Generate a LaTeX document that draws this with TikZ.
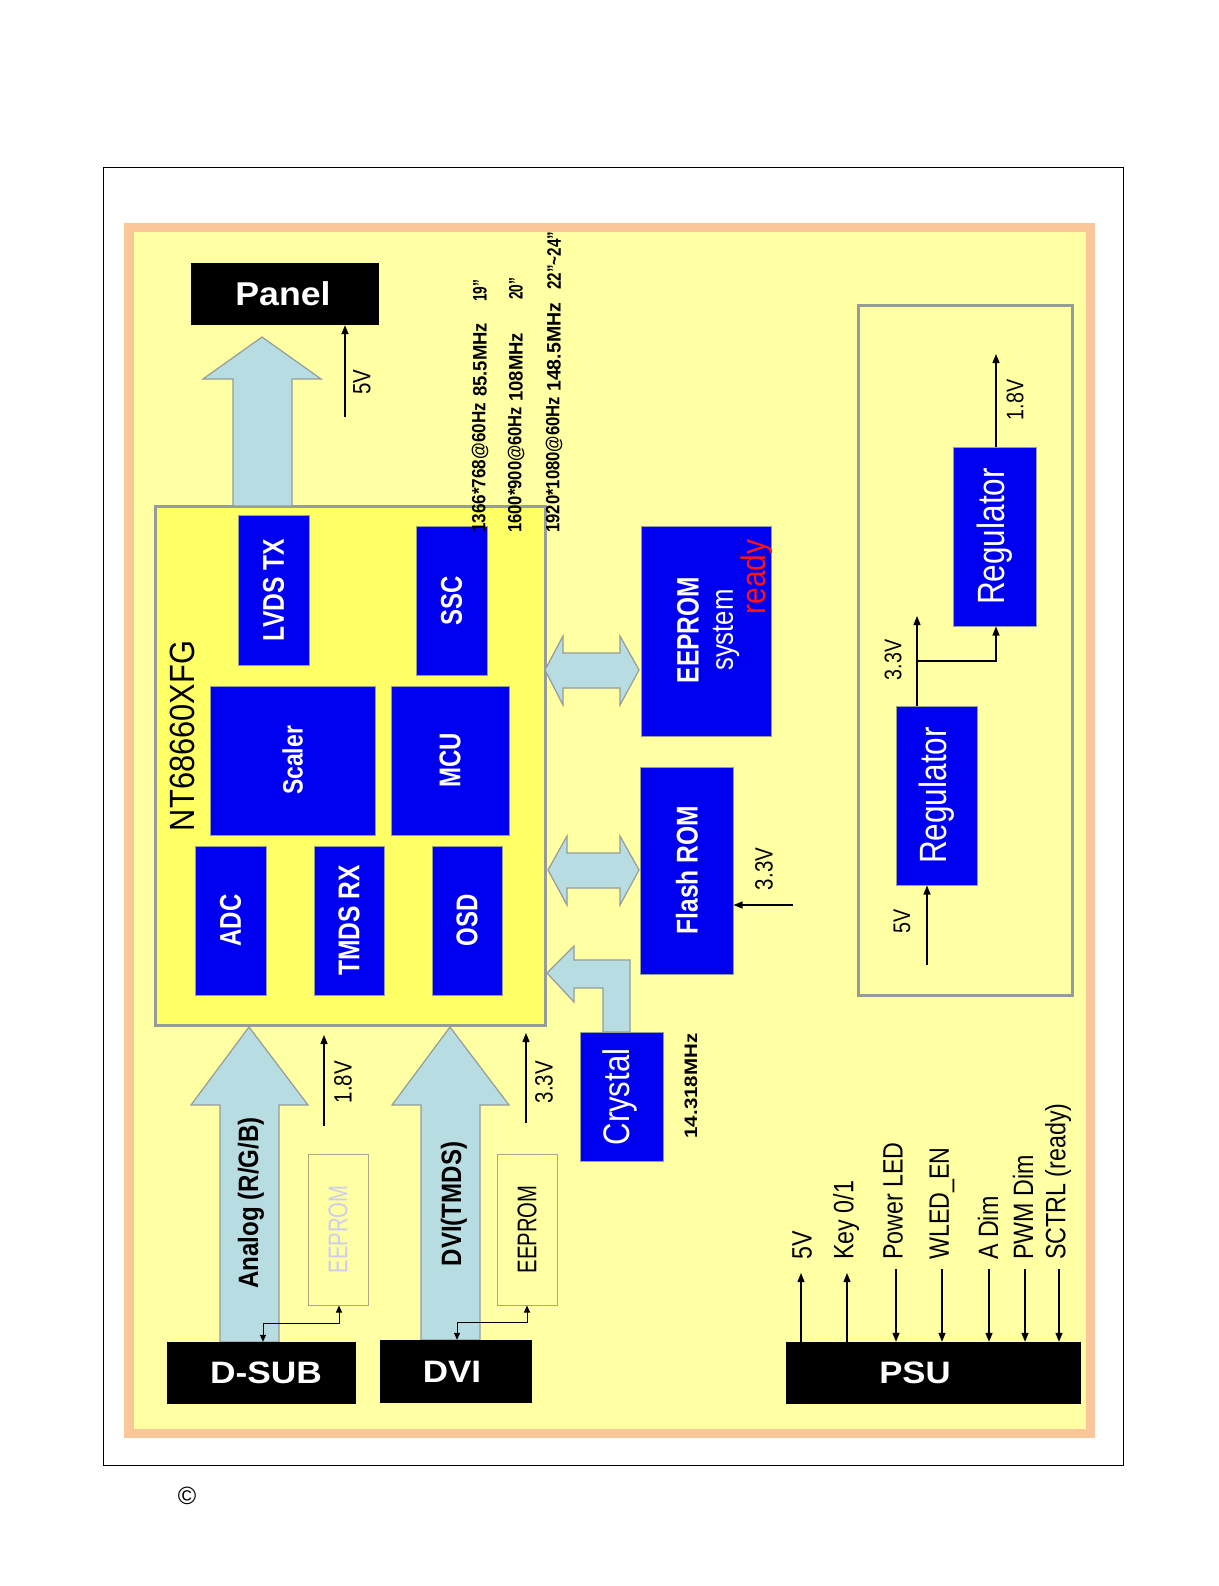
\documentclass[tikz,border=0pt]{standalone}
\usepackage{fontspec}
\setmainfont{Liberation Sans}
\usepackage{graphicx}
\usetikzlibrary{arrows.meta}
\definecolor{peach}{RGB}{251,199,154}
\definecolor{bgyel}{RGB}{255,255,163}
\definecolor{chipyel}{RGB}{255,255,102}
\definecolor{blk}{RGB}{0,0,240}
\definecolor{lblue}{RGB}{183,221,226}
\definecolor{agray}{RGB}{150,155,155}
\definecolor{lav}{RGB}{205,205,240}
\definecolor{eepb}{RGB}{175,165,135}
\definecolor{rdy}{RGB}{255,20,20}
\newcommand\tx[3]{\scalebox{#2}[1]{\fontsize{#1}{#1}\selectfont #3}}
\newcommand\seg[2]{\resizebox{#1pt}{13.6pt}{\fontsize{17}{17}\selectfont\bfseries #2}}
\begin{document}
\begin{tikzpicture}[x=1pt,y=-1pt,
  bluebox/.style={draw=agray,line width=1pt,fill=blk,inner sep=0pt},
  blackbox/.style={fill=black,inner sep=0pt,text=white},
  eepbox/.style={draw=eepb,line width=1pt,fill=bgyel,inner sep=0pt},
  rlab/.style={rotate=90,inner sep=0pt},
  wlab/.style={rotate=90,inner sep=0pt,text=white},
  arr/.style={line width=1.3pt,-{Triangle[length=9pt,width=7pt]}},
  arrb/.style={line width=1pt,{Triangle[length=7pt,width=6pt]}-{Triangle[length=7pt,width=6pt]}},
  blockarrow/.style={fill=lblue,draw=agray,line width=1.2pt,line join=miter}]
\useasboundingbox (0,0) rectangle (1218,1586);
\fill[white] (0,0) rectangle (1218,1586);
% frame
\draw[line width=1pt] (103,168) rectangle (1123,1465);
\fill[peach] (124,223) rectangle (1095,1438);
\fill[bgyel] (134,232) rectangle (1086,1429);
% copyright
\node[inner sep=0pt] (copy) at (187,1496) {\fontsize{25}{25}\selectfont\textcopyright};

% chip
\node[draw=agray,line width=3pt,fill=chipyel,inner sep=0pt,minimum width=390pt,minimum height=519pt] (chip) at (350,765.5) {};
\node[rlab] (ntlab) at (182,736) {\tx{35}{0.88}{NT68660XFG}};

% block arrows
\filldraw[blockarrow] (233,506) -- (233,379) -- (203,379) -- (262,337) -- (321,379) -- (292,379) -- (292,506) -- cycle;
\filldraw[blockarrow] (220,1342) -- (220,1105) -- (191,1105) -- (249,1027) -- (308,1105) -- (279,1105) -- (279,1342) -- cycle;
\filldraw[blockarrow] (421,1340) -- (421,1105) -- (392,1105) -- (450,1027) -- (509,1105) -- (480,1105) -- (480,1340) -- cycle;
\filldraw[blockarrow] (545,670) -- (563,636) -- (563,653) -- (620,653) -- (620,636) -- (639,670) -- (620,705) -- (620,688) -- (563,688) -- (563,705) -- cycle;
\filldraw[blockarrow] (548,870) -- (567,836) -- (567,853) -- (620,853) -- (620,836) -- (639,870) -- (620,905) -- (620,888) -- (567,888) -- (567,905) -- cycle;
\filldraw[blockarrow] (547,973) -- (574,946) -- (574,960) -- (630,960) -- (630,1032) -- (603,1032) -- (603,988) -- (574,988) -- (574,1002) -- cycle;

% blocks inside chip
\node[bluebox,minimum width=71pt,minimum height=150pt] (lvds) at (273.5,590) {};
\node[bluebox,minimum width=71pt,minimum height=149pt] (ssc) at (451.5,600.5) {};
\node[bluebox,minimum width=165pt,minimum height=149pt] (scaler) at (292.5,760.5) {};
\node[bluebox,minimum width=118pt,minimum height=149pt] (mcu) at (450,760.5) {};
\node[bluebox,minimum width=71pt,minimum height=149pt] (adc) at (230.5,920.5) {};
\node[bluebox,minimum width=70pt,minimum height=149pt] (tmds) at (349,920.5) {};
\node[bluebox,minimum width=70pt,minimum height=149pt] (osd) at (467,920.5) {};
\node[wlab] at (lvds) {\tx{30}{0.82}{\bfseries LVDS TX}};
\node[wlab] at (ssc) {\tx{30}{0.80}{\bfseries SSC}};
\node[wlab] at (scaler) {\tx{28}{0.82}{\bfseries Scaler}};
\node[wlab] at (mcu) {\tx{30}{0.80}{\bfseries MCU}};
\node[wlab] at (adc) {\tx{30}{0.80}{\bfseries ADC}};
\node[wlab] at (tmds) {\tx{30}{0.82}{\bfseries TMDS RX}};
\node[wlab] at (osd) {\tx{30}{0.80}{\bfseries OSD}};

% panel
\node[blackbox,minimum width=188pt,minimum height=62pt] (panel) at (285,294) {};
\node[text=white,inner sep=0pt] at (283,294) {\tx{33}{1.08}{\bfseries Panel}};
\coordinate (p5) at (345,417);
\draw[arr] (p5) -- (p5 |- panel.south);
\node[rlab] at (362,382) {\tx{25}{0.82}{5V}};

% resolutions
\node[rlab,anchor=west] at (480,533) {\seg{130}{1366*768@60Hz}};
\node[rlab,anchor=west] at (480,397) {\seg{74}{85.5MHz}};
\node[rlab,anchor=west] at (480,302) {\seg{22}{19”}};
\node[rlab,anchor=west] at (516,533) {\seg{126}{1600*900@60Hz}};
\node[rlab,anchor=west] at (516,402) {\seg{69}{108MHz}};
\node[rlab,anchor=west] at (516,300) {\seg{22}{20”}};
\node[rlab,anchor=west] at (554,533) {\seg{136}{1920*1080@60Hz}};
\node[rlab,anchor=west] at (554,392) {\seg{89}{148.5MHz}};
\node[rlab,anchor=west] at (554,290) {\seg{58}{22”\textasciitilde24”}};

% EEPROM system / flash
\node[bluebox,minimum width=130pt,minimum height=210pt] (eepsys) at (706,631) {};
\node[wlab] at (688,630) {\tx{31}{0.79}{\bfseries EEPROM}};
\node[wlab] at (726,630) {\tx{31}{0.83}{system}};
\node[rlab,text=rdy] at (757,577) {\tx{34}{0.88}{ready}};
\node[bluebox,minimum width=93pt,minimum height=207pt] (flash) at (686.5,870.5) {};
\node[wlab] at (687,870) {\tx{30}{0.82}{\bfseries Flash ROM}};
\coordinate (f33) at (793,905);
\draw[arr] (f33) -- (f33 -| flash.east);
\node[rlab] at (764,869) {\tx{25}{0.82}{3.3V}};

% crystal
\node[bluebox,minimum width=83pt,minimum height=129pt] (crystal) at (621.5,1096.5) {};
\node[wlab] at (620,1097) {\tx{37}{0.84}{Crystal}};
\node[rlab] at (691,1086) {\tx{18}{1.14}{\bfseries 14.318MHz}};

% left inputs
\node[rlab] at (251,1203) {\tx{28}{0.86}{\bfseries Analog (R/G/B)}};
\node[rlab] at (454,1204) {\tx{28}{0.86}{\bfseries DVI(TMDS)}};
\coordinate (v18) at (324,1126); \coordinate (v18e) at (324,1035);
\draw[arr] (v18) -- (v18e);
\node[rlab] at (343,1082) {\tx{25}{0.82}{1.8V}};
\coordinate (v33) at (526,1123); \coordinate (v33e) at (526,1033);
\draw[arr] (v33) -- (v33e);
\node[rlab] at (544,1082) {\tx{25}{0.82}{3.3V}};

\node[eepbox,minimum width=60pt,minimum height=151pt] (eep1) at (338,1229.5) {};
\node[rlab,text=lav] at (eep1) {\tx{27}{0.75}{EEPROM}};
\node[eepbox,minimum width=60pt,minimum height=151pt] (eep2) at (527,1229.5) {};
\node[rlab] at (eep2) {\tx{27}{0.75}{EEPROM}};

\node[blackbox,minimum width=189pt,minimum height=62pt] (dsub) at (261.5,1373) {};
\node[text=white,inner sep=0pt] at (266,1373) {\tx{31}{1.14}{\bfseries D-SUB}};
\node[blackbox,minimum width=152pt,minimum height=63pt] (dvi) at (456,1371.5) {};
\node[text=white,inner sep=0pt] at (452,1372) {\tx{31}{1.13}{\bfseries DVI}};

\coordinate (e1a) at (339,1323); \coordinate (e1b) at (263,1323);
\draw[arrb] (e1a |- eep1.south) -- (e1a) -- (e1b) -- (e1b |- dsub.north);
\coordinate (e2a) at (527,1322); \coordinate (e2b) at (457,1322);
\draw[arrb] (e2a |- eep2.south) -- (e2a) -- (e2b) -- (e2b |- dvi.north);

% power box
\node[draw=agray,line width=3pt,fill=bgyel,inner sep=0pt,minimum width=214pt,minimum height=689pt] (pbox) at (965,650.5) {};
\node[bluebox,minimum width=81pt,minimum height=179pt] (reg1) at (936.5,795.5) {};
\node[wlab] at (reg1) {\tx{38}{0.83}{Regulator}};
\node[bluebox,minimum width=83pt,minimum height=179pt] (reg2) at (994.5,536.5) {};
\node[wlab] at (reg2) {\tx{38}{0.83}{Regulator}};
\coordinate (r5) at (927,965);
\draw[arr] (r5) -- (r5 |- reg1.south);
\node[rlab] at (902,921) {\tx{24}{0.82}{5V}};
\coordinate (r33) at (917,616);
\draw[arr] (r33 |- reg1.north) -- (r33);
\node[rlab] at (893,660) {\tx{24}{0.82}{3.3V}};
\coordinate (br) at (917,661); \coordinate (r18) at (996,354);
\draw[arr] (br) -- (br -| r18) -- (r18 |- reg2.south);
\draw[arr] (r18 |- reg2.north) -- (r18);
\node[rlab] at (1015,400) {\tx{24}{0.82}{1.8V}};

% PSU
\node[blackbox,minimum width=295pt,minimum height=62pt] (psu) at (933.5,1373) {};
\node[text=white,inner sep=0pt] at (915,1373) {\tx{31}{1.12}{\bfseries PSU}};
\coordinate (k1) at (801,1273); \coordinate (k2) at (847,1273);
\coordinate (k3) at (896,1269); \coordinate (k4) at (942,1269);
\coordinate (k5) at (989,1269); \coordinate (k6) at (1025,1269);
\coordinate (k7) at (1059,1269);
\draw[arr] (k1 |- psu.north) -- (k1);
\draw[arr] (k2 |- psu.north) -- (k2);
\foreach \k in {k3,k4,k5,k6,k7} {\draw[arr] (\k) -- (\k |- psu.north);}
\node[rlab,anchor=west] at (802,1260) {\tx{28}{0.83}{5V}};
\node[rlab,anchor=west] at (846,1260) {\tx{28}{0.83}{Key 0/1}};
\node[rlab,anchor=west] at (893,1260) {\tx{28}{0.83}{Power LED}};
\node[rlab,anchor=west] at (942,1260) {\tx{28}{0.83}{WLED\_EN}};
\node[rlab,anchor=west] at (988,1260) {\tx{28}{0.83}{A Dim}};
\node[rlab,anchor=west] at (1023,1260) {\tx{28}{0.83}{PWM Dim}};
\node[rlab,anchor=west] at (1058,1260) {\tx{28}{0.83}{SCTRL (ready)}};
\end{tikzpicture}
\end{document}
